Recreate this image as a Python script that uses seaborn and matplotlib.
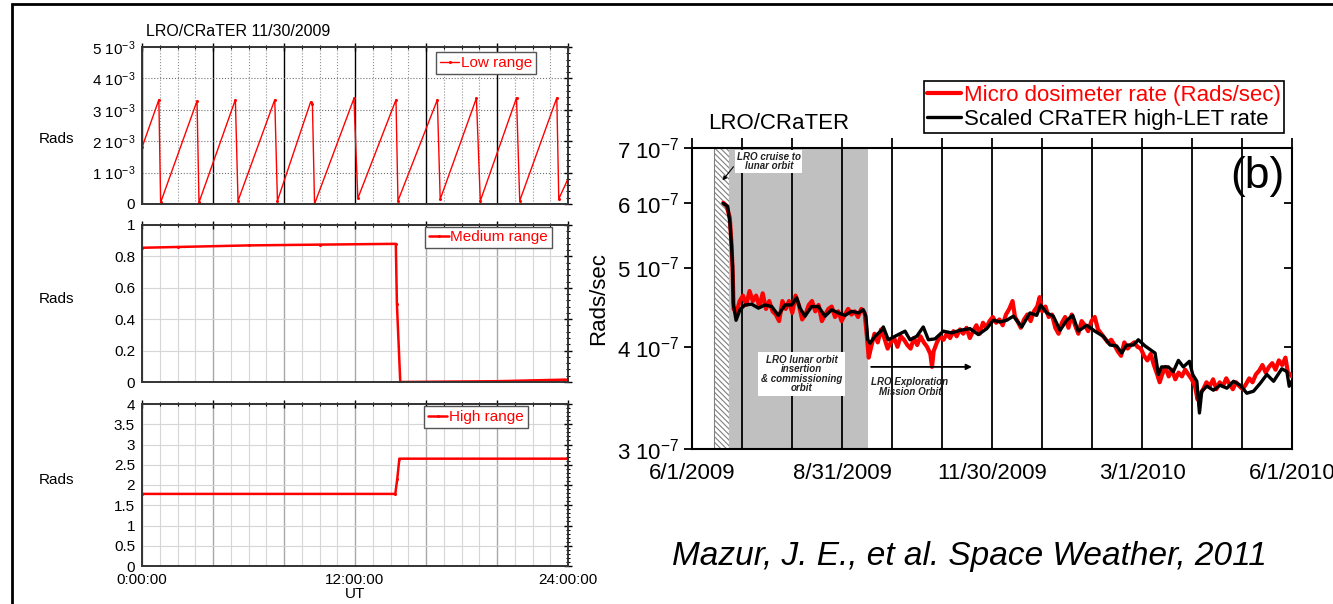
import numpy as np
import matplotlib
matplotlib.use('Agg')
import matplotlib.pyplot as plt
import matplotlib.ticker as mticker
from matplotlib.patches import Rectangle
import seaborn as sns

# %% Left: CRaTER micro dosimeter, one day (11/30/2009)
low_hours = [0, 0.95, 1.05, 3.1, 3.21, 5.26, 5.41, 7.48, 7.63, 9.5, 9.6, 9.72,
             11.94, 12.16, 14.31, 14.42, 16.64, 16.8, 18.84, 19.06, 21.1, 21.28,
             23.37, 23.48, 24.0]
low_mrad = [1.8, 3.32, 0.05, 3.28, 0.05, 3.32, 0.1, 3.32, 0.1, 3.25, 3.2, 0.0,
            3.36, 0.18, 3.32, 0.1, 3.32, 0.15, 3.37, 0.1, 3.38, 0.1,
            3.38, 0.16, 0.8]
low_tick_labels = ['0', '1 10$^{-3}$', '2 10$^{-3}$', '3 10$^{-3}$', '4 10$^{-3}$', '5 10$^{-3}$']

med_hours = [0, 2, 6, 10, 14.3, 14.36, 14.55, 20, 23.8, 24]
med_rads = [0.855, 0.86, 0.87, 0.875, 0.88, 0.5, 0.0, 0.005, 0.015, 0.015]

high_hours = [0, 14.27, 14.38, 14.5, 24]
high_rads = [1.78, 1.78, 2.15, 2.65, 2.65]

hour_major = [0, 4, 8, 12, 16, 20, 24]
hour_labels = ['0:00:00', '', '', '12:00:00', '', '', '24:00:00']

# %% Right: dose rate 6/1/2009 - 6/1/2010 (days since 6/1/2009, units 1e-7 Rads/sec)
black_day = [19, 21.7, 23.1, 24.1, 24.7, 25.1, 26.8, 29.2, 32.2, 36.3, 40.4, 44.4,
             48.5, 52.5, 56.6, 60.6, 63.7, 65.7, 68.7, 72.8, 76.9, 80.9, 85, 89,
             93.1, 97.1, 101.2, 104.2, 105.8, 106.9, 108.3, 111.3, 115.4, 116.4,
             119.4, 124.5, 129.6, 132.6, 136.7, 140.7, 143.8, 147.8, 152.9, 158,
             163, 169.1, 174.2, 179.3, 183.3, 187.4, 191.4, 195.5, 200.6, 205.6,
             209.7, 212.1, 215.8, 219.8, 223.9, 228, 231.6, 235, 240.1, 245.1,
             250.2, 254.3, 258.3, 261.4, 264.4, 268.5, 271.5, 275.6, 278.6, 281.7,
             283.7, 285.7, 289.8, 292.8, 295.9, 298.9, 302.6, 304.6, 307.1, 308.7,
             310.1, 313.2, 317.2, 321.3, 325.4, 329.4, 333.5, 337.5, 341.6, 345.7,
             349.7, 353.8, 358.8, 361.9, 363.3, 364.9]
black_val = [5.99, 5.94, 5.67, 5.30, 5.01, 4.52, 4.31, 4.44, 4.50, 4.51, 4.46, 4.50,
             4.48, 4.37, 4.50, 4.50, 4.59, 4.46, 4.36, 4.48, 4.48, 4.36, 4.44, 4.40,
             4.37, 4.42, 4.40, 4.44, 4.36, 4.08, 4.04, 4.12, 4.19, 4.23,
             4.08, 4.13, 4.18, 4.08, 4.12, 4.23, 4.08, 4.09, 4.18, 4.16,
             4.19, 4.21, 4.14, 4.21, 4.31, 4.29, 4.31, 4.36, 4.23, 4.40,
             4.37, 4.50, 4.40, 4.36, 4.19, 4.31, 4.37, 4.18, 4.25, 4.18,
             4.12, 4.02, 4.01, 3.93, 4.02, 4.02, 4.08, 4.01, 3.97, 3.93,
             3.70, 3.78, 3.78, 3.73, 3.85, 3.78, 3.84, 3.70, 3.63, 3.32,
             3.53, 3.58, 3.54, 3.59, 3.56, 3.63, 3.59, 3.51, 3.53, 3.61,
             3.70, 3.63, 3.76, 3.73, 3.58, 3.63]

red_day = [19, 21, 23, 24, 24.8, 25.3, 27, 29, 31, 33, 35, 37, 39, 41, 43, 45, 47, 49,
           51, 53, 55, 57, 59, 61, 63, 65, 67, 69, 71, 73, 75, 77, 79, 81, 83, 85, 87,
           89, 91, 93, 95, 97, 99, 101, 103, 105, 106.5, 107.5, 109, 111, 113, 115,
           117, 119, 121, 123, 125, 127, 129, 131, 133, 135, 137, 139, 141, 143, 145,
           146, 147, 149, 151, 153, 155, 157, 159, 161, 163, 165, 167, 169, 171, 173,
           175, 177, 179, 181, 183, 185, 187, 189, 191, 193, 195, 196.5, 198, 200,
           202, 204, 206, 208, 210, 211.5, 213, 215, 217, 219, 221, 223, 225, 227,
           229, 231, 233, 235, 237, 239, 241, 243, 245, 247, 249, 251, 253, 255, 257,
           259, 261, 263, 265, 267, 269, 271, 273, 275, 277, 279, 281, 283, 284.5,
           286, 288, 290, 292, 294, 296, 298, 300, 302, 304, 306, 307.5, 309, 311,
           313, 315, 317, 319, 321, 323, 325, 327, 329, 331, 333, 335, 337, 339, 341,
           343, 345, 347, 349, 351, 353, 355, 357, 359, 361, 362.5, 364, 365]
red_val = [6.0, 5.95, 5.75, 5.35, 4.9, 4.45, 4.40, 4.55, 4.62, 4.50, 4.68, 4.55, 4.62,
           4.48, 4.65, 4.45, 4.55, 4.42, 4.38, 4.30, 4.55, 4.45, 4.55, 4.40, 4.62,
           4.50, 4.32, 4.38, 4.50, 4.55, 4.42, 4.50, 4.30, 4.38, 4.45, 4.48, 4.35,
           4.42, 4.30, 4.38, 4.45, 4.38, 4.42, 4.35, 4.45, 4.40, 4.10, 3.88, 4.00,
           4.15, 4.05, 4.20, 4.10, 3.98, 4.05, 4.10, 4.00, 4.12, 4.08, 4.02, 3.98,
           4.10, 4.02, 4.12, 4.05, 4.00, 3.92, 3.78, 3.95, 4.05, 4.12, 4.08, 4.15,
           4.10, 4.18, 4.12, 4.20, 4.15, 4.22, 4.10, 4.18, 4.25, 4.15, 4.28, 4.22,
           4.30, 4.35, 4.28, 4.32, 4.25, 4.38, 4.45, 4.55, 4.35, 4.30, 4.22, 4.32,
           4.38, 4.30, 4.42, 4.48, 4.60, 4.42, 4.48, 4.35, 4.38, 4.22, 4.15, 4.28,
           4.35, 4.22, 4.38, 4.25, 4.15, 4.30, 4.25, 4.18, 4.30, 4.35, 4.20, 4.15,
           4.10, 4.05, 4.08, 4.02, 3.95, 3.90, 4.05, 3.98, 4.02, 4.05, 4.00, 3.98,
           3.90, 3.85, 3.92, 3.80, 3.70, 3.62, 3.70, 3.78, 3.68, 3.75, 3.65, 3.72,
           3.68, 3.75, 3.70, 3.65, 3.58, 3.45, 3.50, 3.55, 3.62, 3.58, 3.65, 3.55,
           3.62, 3.58, 3.66, 3.60, 3.55, 3.62, 3.58, 3.55, 3.60, 3.66, 3.62, 3.70,
           3.74, 3.80, 3.72, 3.78, 3.82, 3.75, 3.85, 3.80, 3.88, 3.72, 3.70, 3.68]

phase_days = [13.4, 22.5, 107.3]  # cruise start, lunar orbit insertion, mission orbit
rate_ticks = [3, 4, 5, 6, 7]
rate_labels = ['3 10$^{-7}$', '4 10$^{-7}$', '5 10$^{-7}$', '6 10$^{-7}$', '7 10$^{-7}$']
date_labels = ['6/1/2009', '8/31/2009', '11/30/2009', '3/1/2010', '6/1/2010']

# %% style
sns.set_style('white')
plt.rcParams['font.family'] = ['Liberation Sans', 'DejaVu Sans']
plt.rcParams['mathtext.fontset'] = 'custom'
plt.rcParams['mathtext.rm'] = 'Liberation Sans'
plt.rcParams['mathtext.it'] = 'Liberation Sans:italic'
plt.rcParams['hatch.color'] = '#808080'
plt.rcParams['hatch.linewidth'] = 0.8
for k in ['text.color', 'axes.labelcolor', 'xtick.color', 'ytick.color']:
    plt.rcParams[k] = 'black'

W, H = 1333, 604
fig = plt.figure(figsize=(W / 100, H / 100), dpi=100)

def px_axes(x0, y0, x1, y1):
    return fig.add_axes([x0 / W, 1 - y1 / H, (x1 - x0) / W, (y1 - y0) / H])

# %% left panels
panels = [
    (47, 204, low_hours, np.array(low_mrad) * 1e-3, 'Low range', 5e-3, 1e-3, (0.925, 0.965), 139),
    (225, 382, med_hours, med_rads, 'Medium range', 1.0, 0.2, (0.962, 0.99), 299),
    (404, 566, high_hours, high_rads, 'High range', 4.0, 0.5, (0.905, 0.985), 480),
]
for i, (y0, y1, xs, ys, name, ytop, ystep, leg_pos, lab_y) in enumerate(panels):
    ax = px_axes(142, y0, 568, y1)
    sns.lineplot(x=xs, y=ys, ax=ax, color='red', lw=1.0 if i == 0 else 1.8,
                 marker='o', markersize=2.2, markeredgewidth=0, label=name)
    ax.set_xlim(0, 24)
    ax.set_ylim(0, ytop)
    ax.set_xticks(hour_major)
    ax.xaxis.set_minor_locator(mticker.MultipleLocator(1))
    ax.yaxis.set_major_locator(mticker.MultipleLocator(ystep))
    ax.yaxis.set_minor_locator(mticker.AutoMinorLocator(5))
    if i == 0:
        ax.set_yticks(np.arange(6) * 1e-3)
        ax.set_yticklabels(low_tick_labels)
        ax.grid(which='major', axis='x', color='black', lw=1.0)
        ax.grid(which='minor', axis='x', color='#909090', lw=0.8, ls=':')
        ax.grid(which='major', axis='y', color='#707070', lw=0.8, ls=':')
        ax.text(0.01, 1.1, 'LRO/CRaTER 11/30/2009', transform=ax.transAxes,
                fontsize=11.5, ha='left', va='center')
    else:
        ax.yaxis.set_major_formatter(mticker.FormatStrFormatter('%g'))
        ax.grid(which='major', axis='x', color='#a8a8a8', lw=1.0)
        ax.grid(which='minor', axis='x', color='#d6d6d6', lw=0.8)
        ax.grid(which='major', axis='y', color='#d6d6d6', lw=0.8)
    if i == 2:
        ax.set_xticklabels(hour_labels)
        ax.set_xlabel('UT', fontsize=11, labelpad=0)
    else:
        ax.set_xticklabels([])
    ax.tick_params(which='major', direction='inout', length=6, width=1, labelsize=11,
                   top=True, right=True, pad=2)
    ax.tick_params(which='minor', direction='inout', length=3, width=0.8, top=True, right=True)
    for s in ax.spines.values():
        s.set_color('#333333')
        s.set_linewidth(1.4)
    ax.set_ylabel('')
    leg = ax.legend(loc='upper right', bbox_to_anchor=leg_pos, fontsize=11, labelcolor='red',
                    fancybox=False, edgecolor='#555555', framealpha=1, handlelength=1.3,
                    handletextpad=0.1, borderpad=0.25, borderaxespad=0)
    leg.get_frame().set_linewidth(1.0)
    fig.text(56 / W, 1 - lab_y / H, 'Rads', fontsize=11, ha='center', va='center')

# %% right panel
ax = px_axes(692, 148, 1292, 449)
ax.axvspan(phase_days[0], phase_days[1], facecolor='white', edgecolor='#808080',
           hatch='\\\\\\\\\\\\', lw=0.8, zorder=1)
ax.axvspan(phase_days[1], phase_days[2], color='#c0c0c0', lw=0, zorder=1)
sns.lineplot(x=red_day, y=np.array(red_val) * 1e-7, ax=ax, color='red', lw=3,
             label='Micro dosimeter rate (Rads/sec)', zorder=3)
sns.lineplot(x=black_day, y=np.array(black_val) * 1e-7, ax=ax, color='black', lw=2.4,
             label='Scaled CRaTER high-LET rate', zorder=4)
ax.set_yscale('log')
ax.set_ylim(3e-7, 7e-7)
ax.set_xlim(0, 365)
month_lines = np.linspace(0, 365, 13)
ax.set_xticks(month_lines)
ax.set_xticklabels([date_labels[k // 3] if k % 3 == 0 else '' for k in range(13)])
ax.set_yticks(np.array(rate_ticks) * 1e-7)
ax.set_yticklabels(rate_labels)
ax.yaxis.set_minor_locator(mticker.NullLocator())
ax.set_axisbelow('line')
ax.grid(axis='x', color='black', lw=1.3)
ax.grid(axis='y', visible=False)
ax.tick_params(axis='x', direction='out', length=7, width=1.3, top=True, labelsize=16, pad=3)
ax.tick_params(axis='y', direction='out', length=6, width=1.3, labelsize=16, pad=3)
ax.set_xlabel('')
ax.set_ylabel('Rads/sec', fontsize=16, labelpad=6)
for s in ax.spines.values():
    s.set_color('black')
    s.set_linewidth(1.5)

ax2 = ax.twinx()
ax2.set_yscale('log')
ax2.set_ylim(3e-7, 7e-7)
ax2.set_yticks(np.array(rate_ticks) * 1e-7)
ax2.yaxis.set_minor_locator(mticker.NullLocator())
ax2.tick_params(axis='y', direction='in', length=6, width=1.3, labelright=False)
ax2.grid(False)
for s in ax2.spines.values():
    s.set_visible(False)

leg = ax.legend(loc='upper right', bbox_to_anchor=(0.987, 1.222), fontsize=16,
                labelcolor=['red', 'black'], fancybox=False, edgecolor='black',
                framealpha=1, handlelength=1.5, handletextpad=0.15, borderpad=0.15,
                labelspacing=0.15, borderaxespad=0)
leg.get_frame().set_linewidth(1.2)

ax.text(0.145, 1.083, 'LRO/CRaTER', transform=ax.transAxes, fontsize=16,
        ha='center', va='center')
ax.text(0.942, 0.905, '(b)', transform=ax.transAxes, fontsize=32, ha='center', va='center')

note = dict(fontsize=7, fontweight='bold', fontstyle='italic', ha='center', va='center',
            transform=ax.transAxes, zorder=6, linespacing=0.95, color='#222222')
ax.text(0.128, 0.955, 'LRO cruise to\nlunar orbit',
        bbox=dict(facecolor='white', edgecolor='none', pad=1), **note)
ax.annotate('', xy=(0.048, 0.885), xytext=(0.072, 0.945), xycoords='axes fraction',
            arrowprops=dict(arrowstyle='-|>', color='black', lw=0.8, mutation_scale=6), zorder=6)
ax.text(0.183, 0.249, 'LRO lunar orbit\ninsertion\n& commissioning\norbit',
        bbox=dict(facecolor='white', edgecolor='none', pad=2), **note)
ax.annotate('', xy=(172, 3.78e-7), xytext=(phase_days[2], 3.78e-7),
            arrowprops=dict(arrowstyle='-|>', color='black', lw=1.3, mutation_scale=8), zorder=6)
ax.text(0.363, 0.205, 'LRO Exploration\nMission Orbit', **note)

fig.text(969 / W, 1 - 557 / H, 'Mazur, J. E., et al. Space Weather, 2011', fontsize=24,
         fontstyle='italic', ha='center', va='center')

fig.add_artist(Rectangle((12 / W, -0.1), 1.2, 1.1 - 4 / H, transform=fig.transFigure,
                         fill=False, edgecolor='black', lw=2))

fig.savefig('out.png', dpi=100)
